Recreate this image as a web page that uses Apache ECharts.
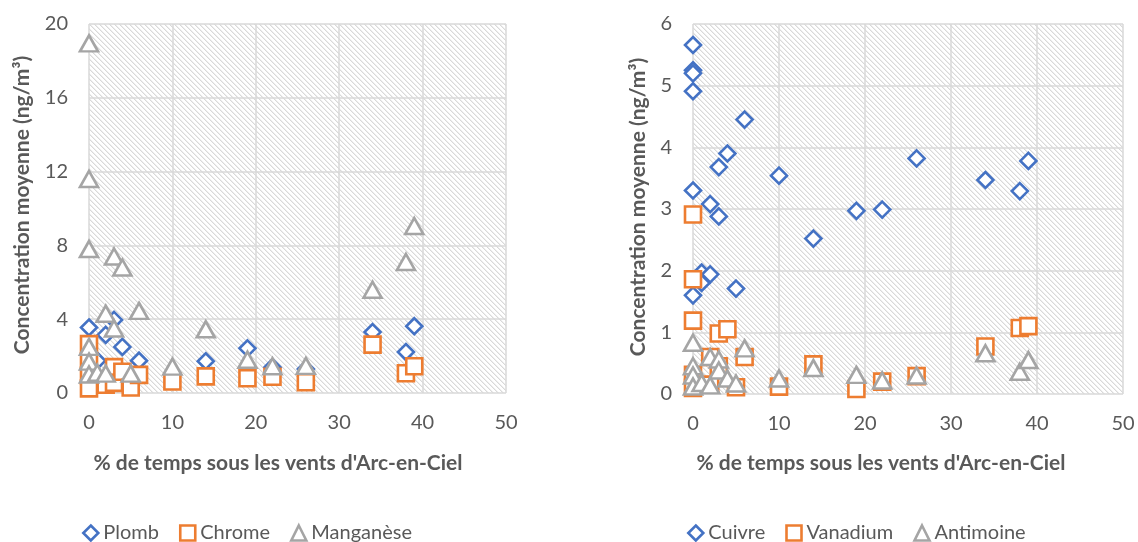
<!DOCTYPE html>
<html>
<head>
<meta charset="utf-8">
<script src="https://cdn.jsdelivr.net/npm/echarts@6/dist/echarts.min.js"></script>
<style>
html,body{margin:0;padding:0;background:#fff;}
#c{width:1138px;height:542px;}
</style>
</head>
<body>
<div id="c"></div>
<script>
// ---- Left chart data ----
const plombX = [0, 1, 2, 3, 4, 6, 14, 19, 22, 26, 34, 38, 39];
const plombY = [3.55, 1.75, 3.15, 3.96, 2.5, 1.75, 1.72, 2.42, 1.4, 1.3, 3.3, 2.22, 3.62];
const chromeX = [0, 0, 0, 0, 2, 3, 3, 4, 5, 6, 10, 14, 19, 22, 26, 34, 38, 39];
const chromeY = [2.65, 1.7, 0.95, 0.25, 0.45, 1.4, 0.55, 1.15, 0.3, 0.98, 0.62, 0.9, 0.8, 0.88, 0.58, 2.62, 1.07, 1.45];
const mangX = [0, 0, 0, 0, 0, 0, 1, 2, 2, 3, 3, 4, 5, 6, 10, 14, 19, 22, 26, 34, 38, 39];
const mangY = [18.95, 11.6, 7.8, 2.5, 1.7, 1.0, 1.1, 4.3, 1.05, 7.4, 3.5, 6.8, 1.05, 4.45, 1.43, 3.45, 1.8, 1.45, 1.47, 5.6, 7.1, 9.05];

// ---- Right chart data ----
const cuivreX = [0, 0, 0, 0, 0, 0, 1, 1, 2, 2, 3, 3, 4, 5, 6, 10, 14, 19, 22, 26, 34, 38, 39];
const cuivreY = [5.66, 5.25, 5.2, 4.91, 3.3, 1.6, 1.97, 1.8, 3.08, 1.94, 3.68, 2.88, 3.9, 1.71, 4.45, 3.54, 2.52, 2.97, 2.99, 3.82, 3.47, 3.29, 3.78];
const vanX = [0, 0, 0, 0, 0, 1, 2, 2, 3, 3, 4, 5, 6, 10, 14, 19, 22, 26, 34, 38, 39];
const vanY = [2.91, 1.86, 1.19, 0.31, 0.1, 0.15, 0.6, 0.15, 0.98, 0.45, 1.05, 0.11, 0.6, 0.12, 0.48, 0.08, 0.2, 0.29, 0.77, 1.07, 1.1];
const antX = [0, 0, 0, 0, 1, 2, 2, 3, 3, 4, 5, 6, 10, 14, 19, 22, 26, 34, 38, 39];
const antY = [0.83, 0.45, 0.3, 0.12, 0.18, 0.6, 0.14, 0.56, 0.38, 0.25, 0.17, 0.74, 0.25, 0.42, 0.31, 0.22, 0.3, 0.66, 0.36, 0.55];

const xTitle = "% de temps sous les vents d'Arc-en-Ciel";
const yTitle = "Concentration moyenne (ng/m³)";

const BLUE = '#4472C4', ORANGE = '#ED7D31', GRAY = '#A5A5A5';
const TXT = '#595959';
const FONT = 'Lato, "Open Sans", sans-serif';

function zip(xs, ys) { return xs.map((x, i) => [x, ys[i]]); }

// hatch pattern
const pc = document.createElement('canvas');
pc.width = 5; pc.height = 5;
const pctx = pc.getContext('2d');
pctx.fillStyle = '#ffffff'; pctx.fillRect(0, 0, 5, 5);
for (let i = 0; i < 5; i++) {
  pctx.fillStyle = '#d9d9d9'; pctx.fillRect(i, i, 1, 1);
  pctx.fillStyle = '#eeeeee'; pctx.fillRect((i + 1) % 5, i, 1, 1);
}
const hatch = { image: pc, repeat: 'repeat' };

const chart = echarts.init(document.getElementById('c'), null, { renderer: 'canvas' });

function xAxisCfg(gi) {
  return {
    gridIndex: gi, type: 'value', min: 0, max: 50, interval: 10,
    axisLine: { show: false }, axisTick: { show: false },
    splitLine: { show: true, lineStyle: { color: '#d9d9d9', width: 1.5 } },
    axisLabel: { color: TXT, fontSize: 20, fontFamily: FONT, margin: 20 }
  };
}
function yAxisCfg(gi, max, interval) {
  return {
    gridIndex: gi, type: 'value', min: 0, max: max, interval: interval,
    axisLine: { show: false }, axisTick: { show: false },
    splitLine: { show: true, lineStyle: { color: '#d9d9d9', width: 1.5 } },
    axisLabel: { color: TXT, fontSize: 20, fontFamily: FONT, margin: 21 }
  };
}
function sc(name, gi, data, symbol, size, color) {
  return {
    name: name, type: 'scatter', xAxisIndex: gi, yAxisIndex: gi,
    data: data, symbol: symbol, symbolSize: size,
    itemStyle: { color: '#fff', borderColor: color, borderWidth: 2.6, opacity: 1 },
    emphasis: { disabled: true }
  };
}
function legItem(name, icon, color) {
  return { name: name, icon: icon, itemStyle: { color: '#fff', borderColor: color, borderWidth: 2.6 } };
}
const legendText = { color: TXT, fontSize: 20, fontFamily: FONT };

chart.setOption({
  animation: false,
  backgroundColor: '#fff',
  grid: [
    { left: 89, top: 24, width: 417, height: 369, show: true, backgroundColor: hatch, borderWidth: 0 },
    { left: 693, top: 24, width: 430, height: 370, show: true, backgroundColor: hatch, borderWidth: 0 }
  ],
  xAxis: [xAxisCfg(0), xAxisCfg(1)],
  yAxis: [yAxisCfg(0, 20, 4), yAxisCfg(1, 6, 1)],
  legend: [
    { left: 77, top: 518, itemGap: 20, itemWidth: 15, itemHeight: 15, textStyle: legendText,
      data: [legItem('Plomb', 'diamond', BLUE), legItem('Chrome', 'rect', ORANGE), legItem('Manganèse', 'triangle', GRAY)] },
    { left: 682, top: 518, itemGap: 20, itemWidth: 15, itemHeight: 15, textStyle: legendText,
      data: [legItem('Cuivre', 'diamond', BLUE), legItem('Vanadium', 'rect', ORANGE), legItem('Antimoine', 'triangle', GRAY)] }
  ],
  series: [
    sc('Plomb', 0, zip(plombX, plombY), 'diamond', 16, BLUE),
    sc('Chrome', 0, zip(chromeX, chromeY), 'rect', 16, ORANGE),
    sc('Manganèse', 0, zip(mangX, mangY), 'triangle', [18, 16], GRAY),
    sc('Cuivre', 1, zip(cuivreX, cuivreY), 'diamond', 16, BLUE),
    sc('Vanadium', 1, zip(vanX, vanY), 'rect', 16, ORANGE),
    sc('Antimoine', 1, zip(antX, antY), 'triangle', [18, 16], GRAY)
  ],
  graphic: [
    { type: 'text', x: 278, y: 463, style: { text: xTitle, fill: TXT, font: 'bold 21px ' + FONT, textAlign: 'center', textVerticalAlign: 'middle' } },
    { type: 'text', x: 881, y: 463, style: { text: xTitle, fill: TXT, font: 'bold 21px ' + FONT, textAlign: 'center', textVerticalAlign: 'middle' } },
    { type: 'text', x: 22, y: 205, rotation: Math.PI / 2, style: { text: yTitle, fill: TXT, font: 'bold 21px ' + FONT, textAlign: 'center', textVerticalAlign: 'middle' } },
    { type: 'text', x: 638, y: 207, rotation: Math.PI / 2, style: { text: yTitle, fill: TXT, font: 'bold 21px ' + FONT, textAlign: 'center', textVerticalAlign: 'middle' } }
  ]
});
</script>
</body>
</html>
